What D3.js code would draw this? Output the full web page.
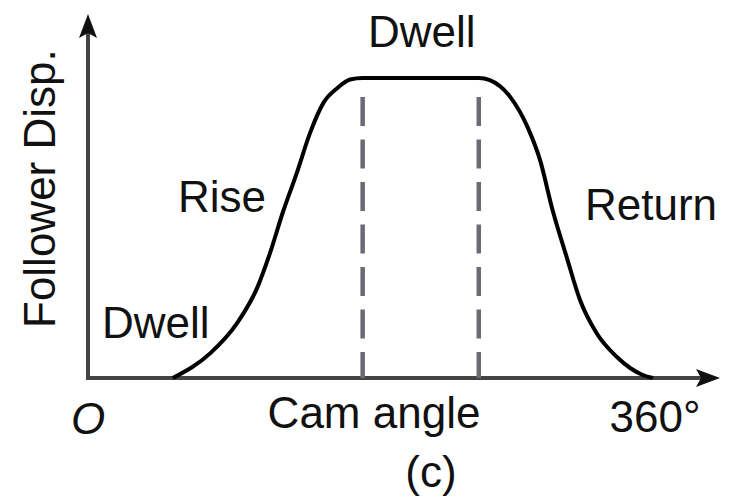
<!DOCTYPE html>
<html lang="en">
<head>
<meta charset="utf-8">
<title>Cam displacement diagram</title>
<script src="https://d3js.org/d3.v7.min.js"></script>
<style>
    body { margin: 0; background: #fff; }
    text { font-family: "Liberation Sans", Arial, Helvetica, sans-serif; fill: #111; }
</style>
</head>
<body>
<div id="chart"></div>
<script>
    // cam angle (deg) vs follower displacement (fraction of total lift)
    var riseAngle   = [54, 78, 95, 108, 116, 124, 133, 141.5, 150, 159, 167, 175];
    var riseDisp    = [0, 0.083, 0.183, 0.303, 0.417, 0.55, 0.683, 0.817, 0.917, 0.967, 0.995, 1];
    var returnAngle = [249, 256, 269, 280, 288, 296, 305, 313.5, 324, 337, 353.5, 360];
    var returnDisp  = [1, 0.993, 0.937, 0.837, 0.727, 0.56, 0.403, 0.26, 0.15, 0.07, 0.01, 0];
    var dwellMarks  = [175, 249];          // start / end of the top dwell
    var axisTicks   = ["O", "360°"];
    var phaseLabels = ["Dwell", "Rise", "Dwell", "Return"];
    var xTitle = "Cam angle", yTitle = "Follower Disp.", caption = "(c)";

    var W = 732, H = 498;

    var svg = d3.select("#chart")
      .append("svg")
        .attr("width", W)
        .attr("height", H);

    var x = d3.scaleLinear().domain([0, 360]).range([88, 653]);
    var y = d3.scaleLinear().domain([0, 1]).range([378, 78]);

    var axisColor = "#444";

    // axes with arrow heads
    var xEnd = 720, yEnd = 14;
    svg.append("line")
        .attr("x1", x(0)).attr("y1", y(0))
        .attr("x2", xEnd - 12).attr("y2", y(0))
        .attr("stroke", axisColor).attr("stroke-width", 4);
    svg.append("line")
        .attr("x1", x(0)).attr("y1", y(0) + 2)
        .attr("x2", x(0)).attr("y2", yEnd + 12)
        .attr("stroke", axisColor).attr("stroke-width", 4);
    svg.append("path")
        .attr("d", "M" + xEnd + "," + y(0) + "L" + (xEnd - 24) + "," + (y(0) - 9) +
                   "L" + (xEnd - 19) + "," + y(0) + "L" + (xEnd - 24) + "," + (y(0) + 9) + "Z")
        .attr("fill", "#111");
    svg.append("path")
        .attr("d", "M" + x(0) + "," + yEnd + "L" + (x(0) - 9) + "," + (yEnd + 24) +
                   "L" + x(0) + "," + (yEnd + 19) + "L" + (x(0) + 9) + "," + (yEnd + 24) + "Z")
        .attr("fill", "#111");

    // dashed lines bounding the top dwell
    svg.selectAll(".dwellLine")
        .data(dwellMarks)
      .enter().append("line")
        .attr("class", "dwellLine")
        .attr("x1", function(d) { return x(d); })
        .attr("x2", function(d) { return x(d); })
        .attr("y1", y(0.937))
        .attr("y2", y(0))
        .attr("stroke", "#6b6b75")
        .attr("stroke-width", 4.5)
        .attr("stroke-dasharray", "29,13.5");

    // displacement curve: rise -> dwell -> return
    var pts = [];
    riseAngle.forEach(function(a, i) { pts.push([a, riseDisp[i]]); });
    returnAngle.forEach(function(a, i) { pts.push([a, returnDisp[i]]); });

    svg.append("path")
        .datum(pts)
        .attr("fill", "none")
        .attr("stroke", "#000")
        .attr("stroke-width", 4)
        .attr("stroke-linejoin", "round")
        .attr("d", d3.line()
            .x(function(d) { return x(d[0]); })
            .y(function(d) { return y(d[1]); })
            .curve(d3.curveMonotoneX));

    var fs = 44;

    // tick labels at 0 and 360
    svg.append("text")
        .attr("x", x(0))
        .attr("y", 434)
        .attr("text-anchor", "middle")
        .style("font-style", "italic")
        .style("font-size", fs + "px")
        .text(axisTicks[0]);
    svg.append("text")
        .attr("x", x(360) + 2)
        .attr("y", 432)
        .attr("text-anchor", "middle")
        .style("font-size", fs + "px")
        .text(axisTicks[1]);

    // axis titles
    svg.append("text")
        .attr("x", 374)
        .attr("y", 428)
        .attr("text-anchor", "middle")
        .style("font-size", fs + "px")
        .text(xTitle);
    svg.append("text")
        .attr("transform", "translate(55,328) rotate(-90)")
        .attr("text-anchor", "start")
        .style("font-size", fs + "px")
        .text(yTitle);
    svg.append("text")
        .attr("x", 431)
        .attr("y", 487)
        .attr("text-anchor", "middle")
        .style("font-size", fs + "px")
        .text(caption);

    // phase labels
    var labelPos = [[102, 338], [178, 212], [368, 47], [585, 220]];
    svg.selectAll(".phase")
        .data(phaseLabels)
      .enter().append("text")
        .attr("class", "phase")
        .attr("x", function(d, i) { return labelPos[i][0]; })
        .attr("y", function(d, i) { return labelPos[i][1]; })
        .style("font-size", fs + "px")
        .text(function(d) { return d; });
</script>
</body>
</html>
